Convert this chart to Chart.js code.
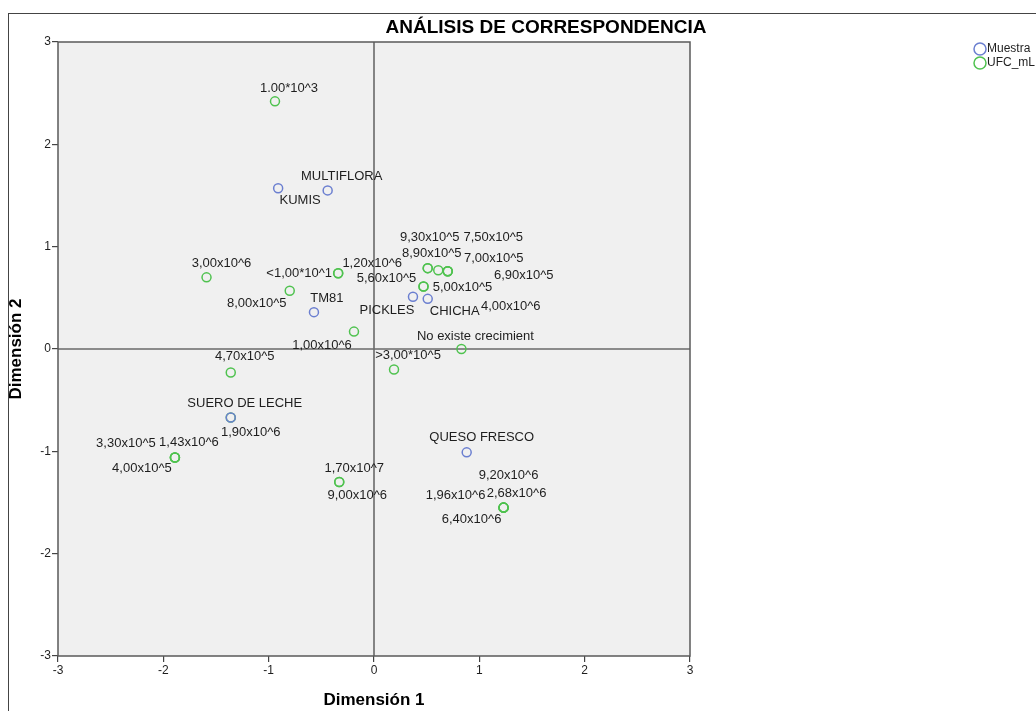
<!DOCTYPE html>
<html>
<head>
<meta charset="utf-8">
<title>Análisis de correspondencia</title>
<script src="https://cdn.jsdelivr.net/npm/chart.js@4/dist/chart.umd.min.js"></script>
<style>
  html, body { margin: 0; padding: 0; background: #fff; }
  canvas { display: block; }
</style>
</head>
<body>
<canvas id="chart" width="1036" height="711"></canvas>
<script>
// Muestra (row points)
const muestraLabels = ['KUMIS', 'MULTIFLORA', 'TM81', 'PICKLES', 'CHICHA', 'SUERO DE LECHE', 'QUESO FRESCO'];
const muestraDim1 = [-0.91, -0.44, -0.57, 0.37, 0.51, -1.36, 0.88];
const muestraDim2 = [1.57, 1.55, 0.36, 0.51, 0.49, -0.67, -1.01];

// UFC_mL (column points)
const ufcLabels = [
  '1.00*10^3', '3,00x10^6', '<1,00*10^1', '1,20x10^6', '8,00x10^5', '1,00x10^6',
  '5,60x10^5', '5,00x10^5', '9,30x10^5', '8,90x10^5', '7,50x10^5', '7,00x10^5',
  '6,90x10^5', '4,00x10^6', 'No existe crecimient', '>3,00*10^5', '4,70x10^5', '1,90x10^6',
  '3,30x10^5', '1,43x10^6', '4,00x10^5', '1,70x10^7', '9,00x10^6',
  '9,20x10^6', '1,96x10^6', '2,68x10^6', '6,40x10^6'
];
const ufcDim1 = [
  -0.94, -1.59, -0.34, -0.34, -0.80, -0.19,
  0.47, 0.47, 0.51, 0.51, 0.61, 0.70,
  0.70, 0.70, 0.83, 0.19, -1.36, -1.36,
  -1.89, -1.89, -1.89, -0.33, -0.33,
  1.23, 1.23, 1.23, 1.23
];
const ufcDim2 = [
  2.42, 0.70, 0.74, 0.74, 0.57, 0.17,
  0.61, 0.61, 0.79, 0.79, 0.77, 0.76,
  0.76, 0.76, 0.00, -0.20, -0.23, -0.67,
  -1.06, -1.06, -1.06, -1.30, -1.30,
  -1.55, -1.55, -1.55, -1.55
];

const axisTicks = [-3, -2, -1, 0, 1, 2, 3];

// label placement relative to each marker, in pixels
const muestraLabelShift = [[22, 12], [14, -14], [13, -14], [-26, 14], [27, 13], [14, -14], [15, -15]];
const ufcLabelShift = [
  [14, -13], [15, -14], [-39, 0], [34, -10], [-33, 13], [-32, 14],
  [-37, -8], [39, 1], [2, -31], [4, -15], [55, -33], [46, -13],
  [76, 4], [63, 35], [14, -13], [14, -14], [14, -16], [20, 15],
  [-49, -14], [14, -15], [-33, 11], [15, -14], [18, 13],
  [5, -32], [-48, -12], [13, -14], [-32, 12]
];

const FONT = 'Arial, "Liberation Sans", sans-serif';
const BLUE = '#6b7fd0';
const GREEN = '#4fc24f';
const INK = '#1e1e1e';

function toPoints(xs, ys) {
  return xs.map((x, i) => ({ x: x, y: ys[i] }));
}

const plotDecor = {
  id: 'plotDecor',
  beforeDatasetsDraw(chart) {
    const { ctx, chartArea: a, scales } = chart;
    ctx.save();
    ctx.fillStyle = '#f0f0f0';
    ctx.fillRect(a.left, a.top, a.right - a.left, a.bottom - a.top);
    // reference lines through the origin
    ctx.strokeStyle = '#6a6a6a';
    ctx.lineWidth = 1.6;
    const x0 = scales.x.getPixelForValue(0);
    const y0 = scales.y.getPixelForValue(0);
    ctx.beginPath();
    ctx.moveTo(x0, a.top);
    ctx.lineTo(x0, a.bottom);
    ctx.moveTo(a.left, y0);
    ctx.lineTo(a.right, y0);
    ctx.stroke();
    ctx.strokeStyle = '#5a5a5a';
    ctx.lineWidth = 1.5;
    ctx.strokeRect(a.left, a.top, a.right - a.left, a.bottom - a.top);
    ctx.restore();
  },
  afterDatasetsDraw(chart) {
    const { ctx } = chart;
    const shifts = [muestraLabelShift, ufcLabelShift];
    const names = [muestraLabels, ufcLabels];
    ctx.save();
    ctx.font = '13px ' + FONT;
    ctx.fillStyle = INK;
    ctx.textAlign = 'center';
    ctx.textBaseline = 'middle';
    chart.data.datasets.forEach((ds, d) => {
      chart.getDatasetMeta(d).data.forEach((pt, i) => {
        const s = shifts[d][i];
        ctx.fillText(names[d][i], pt.x + s[0], pt.y + s[1]);
      });
    });
    ctx.restore();
  },
  afterDraw(chart) {
    const { ctx } = chart;
    ctx.save();
    // outer frame
    ctx.strokeStyle = '#444';
    ctx.lineWidth = 1;
    ctx.strokeRect(8.5, 13.5, 2000, 2000);
    // title
    ctx.fillStyle = '#000';
    ctx.font = 'bold 19px ' + FONT;
    ctx.textAlign = 'center';
    ctx.textBaseline = 'middle';
    ctx.fillText('ANÁLISIS DE CORRESPONDENCIA', 546, 28);
    // legend
    const entries = [['Muestra', BLUE], ['UFC_mL', GREEN]];
    ctx.font = '12px ' + FONT;
    ctx.textAlign = 'left';
    entries.forEach((e, i) => {
      const y = 49 + i * 14;
      ctx.strokeStyle = e[1];
      ctx.lineWidth = 1.5;
      ctx.beginPath();
      ctx.arc(980, y, 6, 0, Math.PI * 2);
      ctx.stroke();
      ctx.fillStyle = INK;
      ctx.fillText(e[0], 987, y);
    });
    ctx.restore();
  }
};

function axis(label, fitKey, fitSize) {
  return {
    type: 'linear',
    min: -3,
    max: 3,
    afterBuildTicks: scale => { scale.ticks = axisTicks.map(v => ({ value: v })); },
    afterFit: scale => { scale[fitKey] = fitSize; },
    ticks: { color: INK, font: { family: FONT, size: 12 }, padding: 1 },
    grid: { drawOnChartArea: false, drawTicks: true, tickLength: 6, color: '#444', lineWidth: 1.2 },
    border: { display: false },
    title: {
      display: true,
      text: label,
      color: '#000',
      font: { family: FONT, size: 17, weight: 'bold' },
      padding: { top: fitKey === 'height' ? 4 : 6, bottom: 0 }
    }
  };
}

new Chart(document.getElementById('chart'), {
  type: 'scatter',
  data: {
    datasets: [
      {
        label: 'Muestra',
        data: toPoints(muestraDim1, muestraDim2),
        borderColor: BLUE,
        backgroundColor: 'transparent',
        pointRadius: 4.5,
        borderWidth: 1.5
      },
      {
        label: 'UFC_mL',
        data: toPoints(ufcDim1, ufcDim2),
        borderColor: GREEN,
        backgroundColor: 'transparent',
        pointRadius: 4.5,
        borderWidth: 1.5
      }
    ]
  },
  options: {
    responsive: false,
    animation: false,
    layout: { padding: { top: 42, right: 346, left: 0, bottom: 0 } },
    plugins: {
      legend: { display: false },
      title: { display: false },
      tooltip: { enabled: false }
    },
    scales: {
      x: axis('Dimensión 1', 'height', 55),
      y: axis('Dimensión 2', 'width', 58)
    }
  },
  plugins: [plotDecor]
});
</script>
</body>
</html>
